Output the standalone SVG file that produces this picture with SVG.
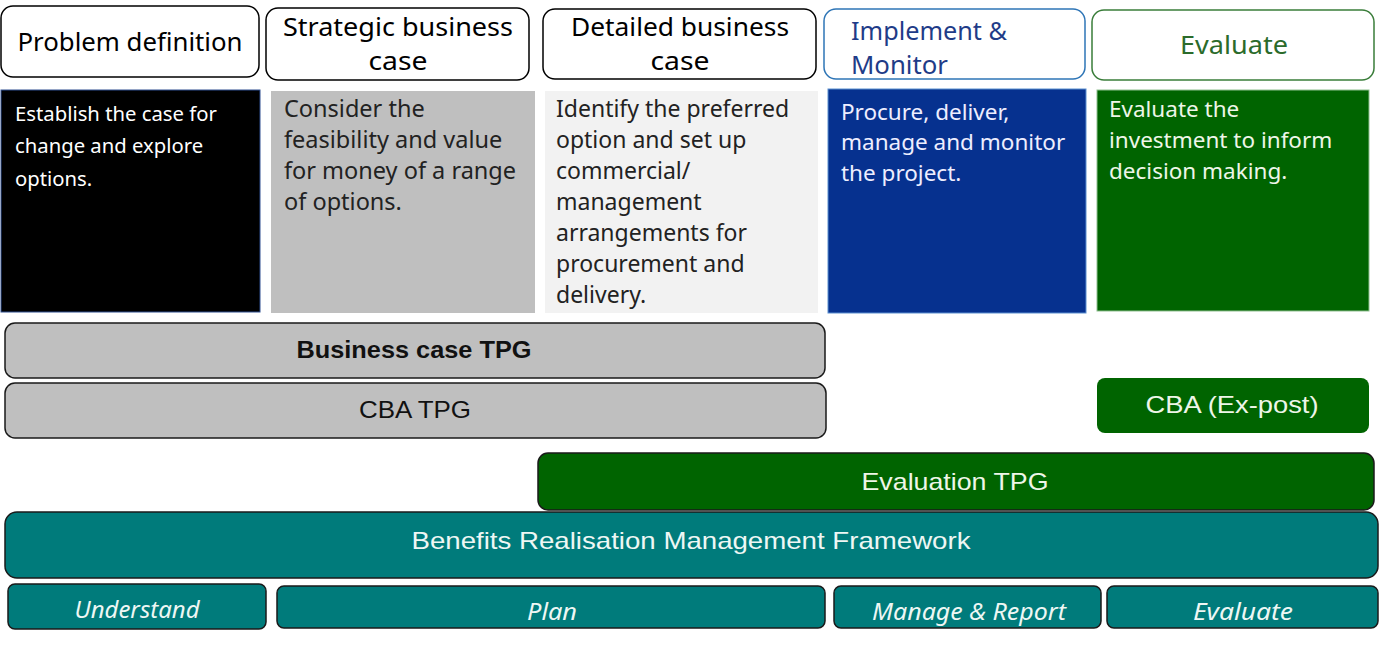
<svg xmlns="http://www.w3.org/2000/svg" width="1379" height="646" viewBox="0 0 1379 646">
<style>
.hdr{fill:#fff;stroke:#000;stroke-width:1.5}
.ht{font-family:"Noto Sans","Liberation Sans",sans-serif;font-size:26px;fill:#000;text-anchor:middle}
.bt{font-family:"Noto Sans","Liberation Sans",sans-serif;font-size:22.5px}
.bar{stroke:#1a1a1a;stroke-width:1.5}
.nt{font-family:"Liberation Sans",Arial,sans-serif;font-size:24px;text-anchor:middle}
.it{font-family:"Noto Sans","Liberation Sans",sans-serif;font-style:italic;font-size:23px;fill:#eef7f4;text-anchor:middle}
</style>
<rect width="1379" height="646" fill="#fff"/>
<g id="hdr-problem"><rect class="hdr" x="1" y="6" width="258" height="71" rx="12"/><text class="ht" x="130" y="51" textLength="225" lengthAdjust="spacingAndGlyphs">Problem definition</text></g>
<g id="hdr-strategic"><rect class="hdr" x="266" y="8" width="263" height="72" rx="12"/><text class="ht" x="398" y="36" textLength="230" lengthAdjust="spacingAndGlyphs">Strategic business</text><text class="ht" x="398" y="70" textLength="59" lengthAdjust="spacingAndGlyphs">case</text></g>
<g id="hdr-detailed"><rect class="hdr" x="543" y="9" width="273" height="70" rx="12"/><text class="ht" x="680" y="36" textLength="218" lengthAdjust="spacingAndGlyphs">Detailed business</text><text class="ht" x="680" y="70" textLength="59" lengthAdjust="spacingAndGlyphs">case</text></g>
<g id="hdr-implement"><rect x="824" y="9" width="261" height="70" rx="12" fill="#fff" stroke="#2e75b6" stroke-width="1.5"/><text class="ht" x="851" y="40" style="text-anchor:start;fill:#1f3c88" textLength="156" lengthAdjust="spacingAndGlyphs">Implement &amp;</text><text class="ht" x="851" y="74" style="text-anchor:start;fill:#1f3c88" textLength="97" lengthAdjust="spacingAndGlyphs">Monitor</text></g>
<g id="hdr-evaluate"><rect x="1092" y="10" width="282" height="70" rx="12" fill="#fff" stroke="#3a7d3a" stroke-width="1.5"/><text class="ht" x="1234" y="54" style="fill:#2b6b2b" textLength="108" lengthAdjust="spacingAndGlyphs">Evaluate</text></g>

<g id="box-problem"><rect x="1" y="90" width="259" height="222" fill="#000" stroke="#2f4f8f" stroke-width="1"/><text class="bt" fill="#fff" style="font-size:20.3px"><tspan x="15" y="121">Establish the case for</tspan><tspan x="15" y="153">change and explore</tspan><tspan x="15" y="186">options.</tspan></text></g>
<g id="box-strategic"><rect x="271" y="91" width="264" height="222" fill="#bfbfbf"/><text class="bt" fill="#222" style="font-size:23.5px"><tspan x="284" y="117">Consider the</tspan><tspan x="284" y="148">feasibility and value</tspan><tspan x="284" y="179">for money of a range</tspan><tspan x="284" y="210">of options.</tspan></text></g>
<g id="box-detailed"><rect x="545" y="91" width="273" height="222" fill="#f2f2f2"/><text class="bt" fill="#222" style="font-size:23px"><tspan x="556" y="117">Identify the preferred</tspan><tspan x="556" y="148">option and set up</tspan><tspan x="556" y="179">commercial/</tspan><tspan x="556" y="210">management</tspan><tspan x="556" y="241">arrangements for</tspan><tspan x="556" y="272">procurement and</tspan><tspan x="556" y="303">delivery.</tspan></text></g>
<g id="box-implement"><rect x="828" y="89" width="258" height="224" fill="#06318f" stroke="#5b8fd0" stroke-width="1"/><text class="bt" fill="#eef"><tspan x="841" y="120">Procure, deliver,</tspan><tspan x="841" y="150">manage and monitor</tspan><tspan x="841" y="181">the project.</tspan></text></g>
<g id="box-evaluate"><rect x="1097" y="90" width="272" height="221" fill="#006400" stroke="#8fbf8f" stroke-width="1"/><text class="bt" fill="#eef6e8"><tspan x="1109" y="117">Evaluate the</tspan><tspan x="1109" y="148">investment to inform</tspan><tspan x="1109" y="179">decision making.</tspan></text></g>

<g id="bar-business-case-tpg"><rect class="bar" x="5" y="323" width="820" height="55" rx="10" fill="#bfbfbf"/><text class="nt" x="414" y="358" font-weight="bold" fill="#111" textLength="235" lengthAdjust="spacingAndGlyphs">Business case TPG</text></g>
<g id="bar-cba-tpg"><rect class="bar" x="5" y="383" width="821" height="55" rx="10" fill="#bfbfbf"/><text class="nt" x="415" y="418" fill="#111" textLength="112" lengthAdjust="spacingAndGlyphs">CBA TPG</text></g>
<g id="bar-cba-expost"><rect x="1097" y="378" width="272" height="55" rx="8" fill="#006400"/><text class="nt" x="1232" y="413" fill="#eef6e8" textLength="173" lengthAdjust="spacingAndGlyphs">CBA (Ex-post)</text></g>
<g id="bar-evaluation-tpg"><rect class="bar" x="538" y="453" width="836" height="57" rx="10" fill="#006400"/><text class="nt" x="955" y="490" fill="#eef6e8" textLength="187" lengthAdjust="spacingAndGlyphs">Evaluation TPG</text></g>
<g id="bar-brm"><rect class="bar" x="5" y="512" width="1373" height="66" rx="12" fill="#007b7b"/><text class="nt" x="691" y="549" fill="#eef7f4" textLength="559" lengthAdjust="spacingAndGlyphs">Benefits Realisation Management Framework</text></g>
<g id="step-understand"><rect class="bar" x="8" y="584" width="258" height="45" rx="7" fill="#007b7b"/><text class="it" x="137" y="618" textLength="125" lengthAdjust="spacingAndGlyphs">Understand</text></g>
<g id="step-plan"><rect class="bar" x="277" y="586" width="548" height="42" rx="7" fill="#007b7b"/><text class="it" x="552" y="620" textLength="50" lengthAdjust="spacingAndGlyphs">Plan</text></g>
<g id="step-manage"><rect class="bar" x="834" y="586" width="267" height="42" rx="7" fill="#007b7b"/><text class="it" x="969" y="620" textLength="194" lengthAdjust="spacingAndGlyphs">Manage &amp; Report</text></g>
<g id="step-evaluate"><rect class="bar" x="1107" y="586" width="271" height="42" rx="7" fill="#007b7b"/><text class="it" x="1243" y="620" textLength="100" lengthAdjust="spacingAndGlyphs">Evaluate</text></g>
<g id="connectors"></g>
</svg>
